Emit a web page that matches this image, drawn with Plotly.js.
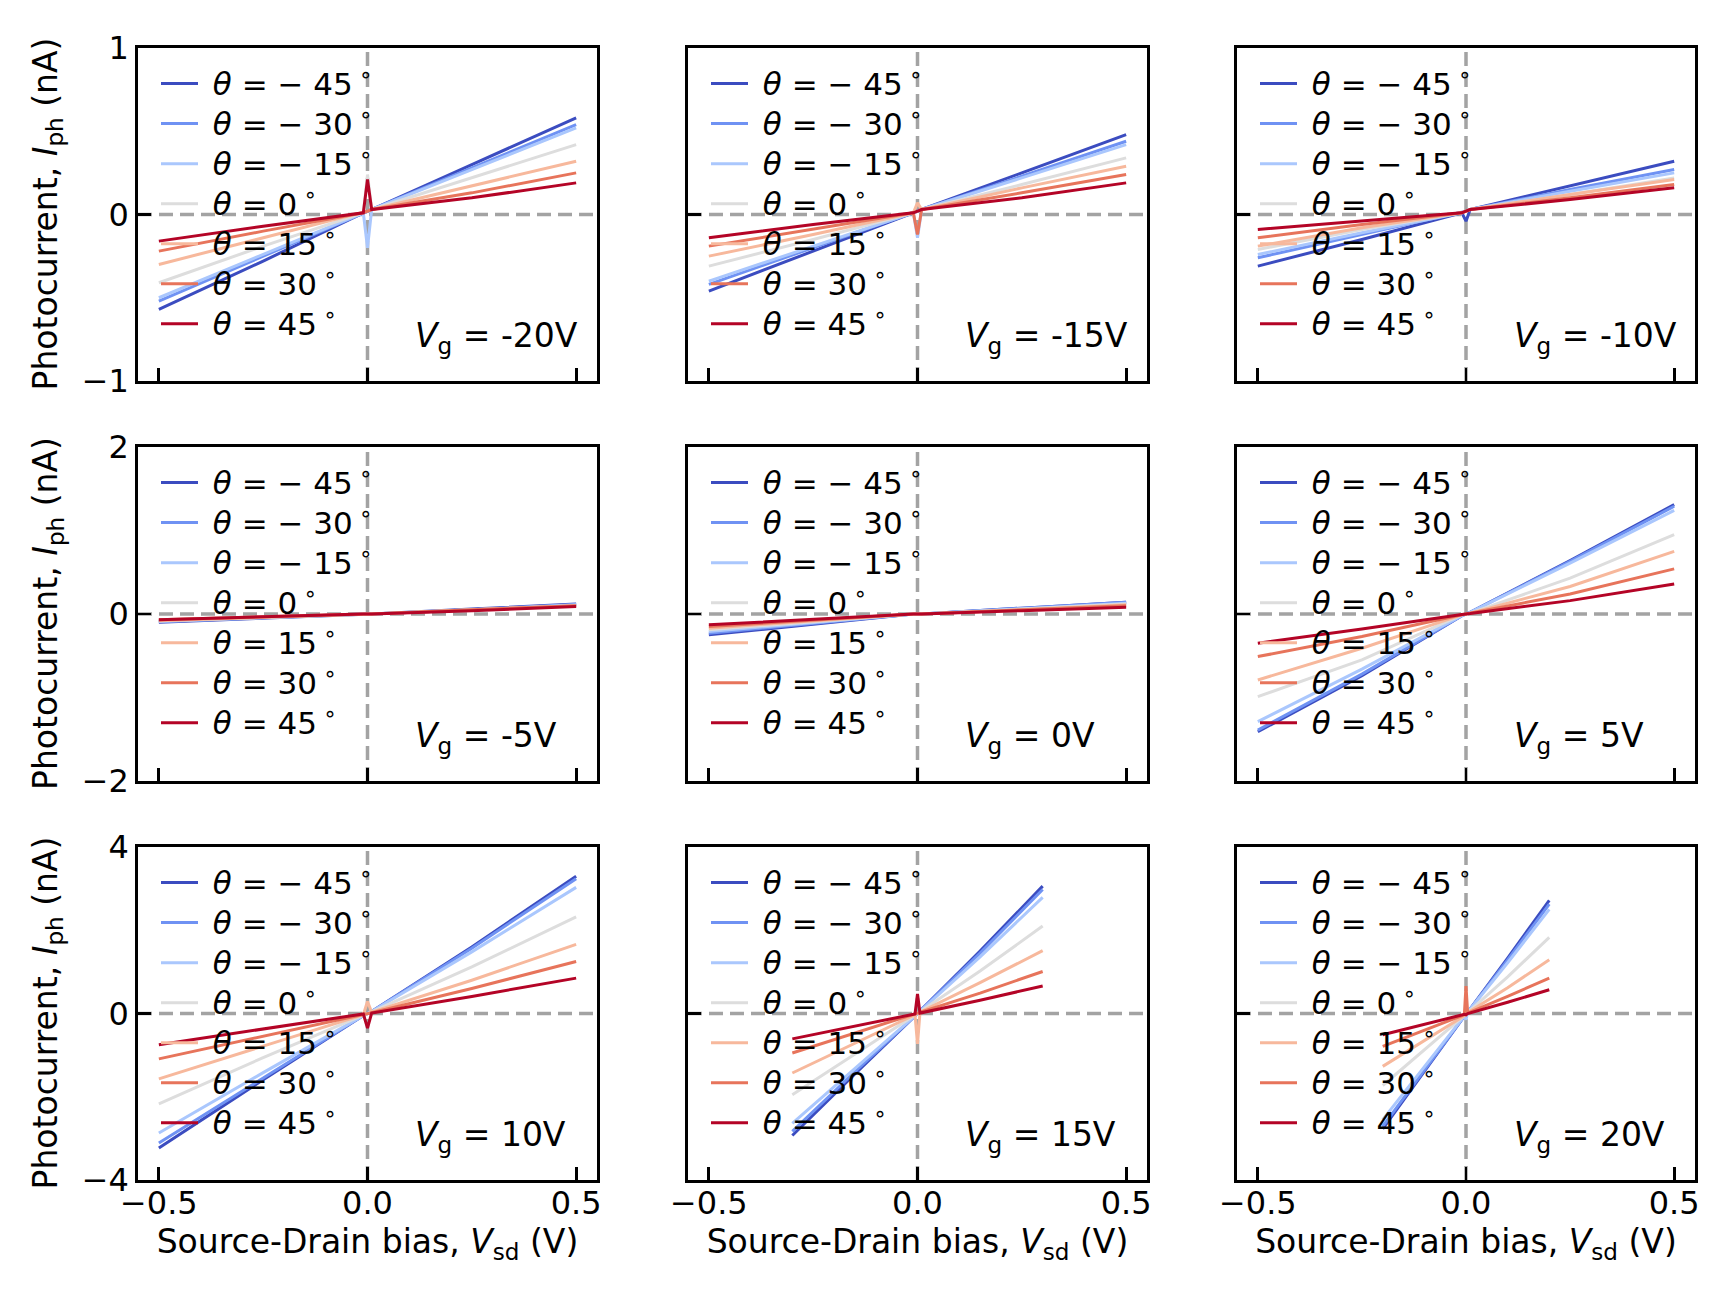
<!DOCTYPE html>
<html>
<head>
<meta charset="utf-8">
<script src="https://cdn.plot.ly/plotly-3.0.1.min.js"></script>
<style>html,body{margin:0;padding:0;background:#fff;}#chart{width:1734px;height:1300px;}</style>
</head>
<body>
<div id="chart"></div>
<script>
// ---------- data ----------
const thetas = [-45, -30, -15, 0, 15, 30, 45];
const thetaColors = ['#3b4cc0', '#6f92f3', '#aac7fd', '#dddddd', '#f7b89c', '#e7745b', '#b40426'];
const gateVoltages = [-20, -15, -10, -5, 0, 5, 10, 15, 20];
const gateLabels = ['-20V', '-15V', '-10V', '-5V', '0V', '5V', '10V', '15V', '20V'];

const vsdFull = [-0.5, -0.25, -0.01, 0, 0.01, 0.25, 0.5];
const vsd15 = [-0.3, -0.15, -0.006, 0, 0.006, 0.15, 0.3];
const vsd20 = [-0.2, -0.1, -0.004, 0, 0.004, 0.1, 0.2];

// rows: theta = -45, -30, -15, 0, 15, 30, 45 (nA)
const iphVgM20 = [
  [-0.57, -0.28, 0.01, 0.02, 0.03, 0.30, 0.58],
  [-0.52, -0.25, 0.01, 0.02, 0.03, 0.28, 0.54],
  [-0.50, -0.24, 0.01, -0.20, 0.03, 0.27, 0.52],
  [-0.41, -0.19, 0.01, 0.24, 0.03, 0.22, 0.42],
  [-0.30, -0.14, 0.01, 0.02, 0.03, 0.17, 0.32],
  [-0.22, -0.10, 0.01, 0.02, 0.03, 0.13, 0.25],
  [-0.16, -0.07, 0.01, 0.21, 0.03, 0.10, 0.19]
];
const iphVgM15 = [
  [-0.46, -0.22, 0.01, 0.02, 0.03, 0.25, 0.48],
  [-0.42, -0.20, 0.01, 0.02, 0.03, 0.23, 0.44],
  [-0.40, -0.19, 0.01, -0.14, 0.03, 0.22, 0.42],
  [-0.31, -0.15, 0.01, 0.02, 0.03, 0.18, 0.34],
  [-0.25, -0.12, 0.01, 0.07, 0.03, 0.16, 0.29],
  [-0.19, -0.09, 0.01, -0.12, 0.03, 0.13, 0.24],
  [-0.14, -0.06, 0.01, 0.02, 0.03, 0.10, 0.19]
];
const iphVgM10 = [
  [-0.31, -0.15, 0.01, -0.04, 0.03, 0.17, 0.32],
  [-0.26, -0.12, 0.01, 0.02, 0.03, 0.15, 0.27],
  [-0.24, -0.11, 0.01, 0.02, 0.03, 0.14, 0.25],
  [-0.21, -0.09, 0.01, 0.02, 0.03, 0.12, 0.22],
  [-0.19, -0.08, 0.01, 0.02, 0.03, 0.12, 0.21],
  [-0.14, -0.06, 0.01, 0.02, 0.03, 0.10, 0.18],
  [-0.09, -0.04, 0.01, 0.02, 0.03, 0.09, 0.16]
];
const iphVgM5 = [
  [-0.10, -0.05, 0.0, 0.0, 0.0, 0.06, 0.12],
  [-0.09, -0.04, 0.0, 0.0, 0.0, 0.05, 0.11],
  [-0.09, -0.04, 0.0, 0.0, 0.0, 0.05, 0.11],
  [-0.08, -0.04, 0.0, 0.0, 0.0, 0.05, 0.10],
  [-0.08, -0.04, 0.0, 0.0, 0.0, 0.05, 0.10],
  [-0.07, -0.03, 0.0, 0.0, 0.0, 0.05, 0.10],
  [-0.07, -0.03, 0.0, 0.0, 0.0, 0.04, 0.09]
];
const iphVg0 = [
  [-0.25, -0.12, 0.0, 0.0, 0.0, 0.07, 0.14],
  [-0.23, -0.11, 0.0, 0.0, 0.0, 0.07, 0.14],
  [-0.21, -0.10, 0.0, 0.0, 0.0, 0.06, 0.13],
  [-0.19, -0.09, 0.0, 0.0, 0.0, 0.06, 0.12],
  [-0.17, -0.08, 0.0, 0.0, 0.0, 0.05, 0.11],
  [-0.15, -0.07, 0.0, 0.0, 0.0, 0.05, 0.10],
  [-0.13, -0.06, 0.0, 0.0, 0.0, 0.04, 0.08]
];
const iphVg5 = [
  [-1.41, -0.74, -0.02, 0.0, 0.02, 0.64, 1.31],
  [-1.39, -0.72, -0.02, 0.0, 0.02, 0.63, 1.29],
  [-1.29, -0.66, -0.02, 0.0, 0.02, 0.61, 1.24],
  [-0.99, -0.55, -0.01, 0.0, 0.01, 0.43, 0.95],
  [-0.79, -0.41, -0.01, 0.0, 0.01, 0.33, 0.75],
  [-0.51, -0.27, -0.01, 0.0, 0.01, 0.24, 0.54],
  [-0.35, -0.18, -0.005, 0.0, 0.005, 0.16, 0.36]
];
const iphVg10 = [
  [-3.23, -1.59, -0.05, 0.0, 0.05, 1.60, 3.30],
  [-3.11, -1.54, -0.05, 0.0, 0.05, 1.57, 3.24],
  [-2.87, -1.42, -0.05, 0.0, 0.05, 1.48, 3.03],
  [-2.17, -1.06, -0.04, 0.0, 0.04, 1.12, 2.32],
  [-1.57, -0.78, -0.03, 0.29, 0.03, 0.80, 1.66],
  [-1.09, -0.54, -0.02, 0.0, 0.02, 0.60, 1.25],
  [-0.75, -0.37, -0.01, -0.35, 0.01, 0.41, 0.85]
];
const iphVg15 = [
  [-2.93, -1.45, -0.06, 0.0, 0.06, 1.50, 3.06],
  [-2.83, -1.40, -0.06, 0.0, 0.06, 1.45, 2.98],
  [-2.64, -1.31, -0.05, 0.0, 0.05, 1.36, 2.79],
  [-1.95, -0.97, -0.04, 0.0, 0.04, 1.02, 2.10],
  [-1.43, -0.71, -0.03, -0.73, 0.03, 0.74, 1.51],
  [-0.95, -0.47, -0.02, 0.0, 0.02, 0.49, 1.01],
  [-0.61, -0.30, -0.01, 0.47, 0.01, 0.32, 0.66]
];
const iphVg20 = [
  [-2.77, -1.38, -0.06, -0.03, 0.03, 1.33, 2.72],
  [-2.71, -1.35, -0.06, -0.03, 0.03, 1.29, 2.63],
  [-2.55, -1.28, -0.06, -0.15, 0.03, 1.22, 2.50],
  [-1.73, -0.87, -0.05, -0.03, 0.02, 0.88, 1.83],
  [-1.27, -0.64, -0.04, -0.03, 0.02, 0.62, 1.29],
  [-0.79, -0.40, -0.03, 0.66, 0.01, 0.41, 0.85],
  [-0.51, -0.26, -0.02, -0.03, 0.0, 0.27, 0.57]
];

const panelX = [vsdFull, vsdFull, vsdFull, vsdFull, vsdFull, vsdFull, vsdFull, vsd15, vsd20];
const panelY = [iphVgM20, iphVgM15, iphVgM10, iphVgM5, iphVg0, iphVg5, iphVg10, iphVg15, iphVg20];

const xTickVals = [-0.5, 0, 0.5];
const xTickText = ['\u22120.5', '0.0', '0.5'];
const yTickValsRows = [[-1, 0, 1], [-2, 0, 2], [-4, 0, 4]];
const yTickTextRows = [['\u22121', '0', '1'], ['\u22122', '0', '2'], ['\u22124', '0', '4']];
const yRangeRows = [[-1, 1], [-2, 2], [-4, 4]];

const xTitleText = 'Source-Drain bias, <i>V</i><sub>sd</sub> (V)';
const yTitleText = 'Photocurrent, <i>I</i><sub>ph</sub> (nA)';

// ---------- layout ----------
const W = 1734, H = 1300;
const FONT = 'DejaVu Sans';
const colDomains = [[138 / W, 597 / W], [688 / W, 1147 / W], [1237 / W, 1695 / W]];
const rowDomains = [[1 - 381 / H, 1 - 48 / H], [1 - 781 / H, 1 - 447 / H], [1 - 1180 / H, 1 - 847 / H]];

function thetaLabel(t) {
  const num = t < 0 ? '\u2212 ' + Math.abs(t) : String(t);
  return '<span style="font-size:31px">\u00a0<i>\u03b8</i> = ' + num + '\u2009<sup>\u2218</sup></span>';
}

const traces = [];
const layout = {
  width: W, height: H,
  margin: {l: 0, r: 0, t: 0, b: 0},
  paper_bgcolor: '#ffffff',
  plot_bgcolor: 'rgba(0,0,0,0)',
  font: {family: FONT, color: '#000000', size: 30},
  showlegend: true,
  shapes: [],
  annotations: []
};

for (let p = 0; p < 9; p++) {
  const r = Math.floor(p / 3), c = p % 3;
  const n = p + 1;
  const xid = n === 1 ? 'x' : 'x' + n;
  const yid = n === 1 ? 'y' : 'y' + n;
  const lid = n === 1 ? 'legend' : 'legend' + n;
  const xs = panelX[p];
  const ys = panelY[p];
  for (let k = 0; k < thetas.length; k++) {
    traces.push({
      type: 'scatter', mode: 'lines',
      x: xs, y: ys[k],
      xaxis: xid, yaxis: yid,
      legend: lid,
      name: thetaLabel(thetas[k]),
      line: {color: thetaColors[k], width: 3},
      hoverinfo: 'skip'
    });
  }
  layout[n === 1 ? 'xaxis' : 'xaxis' + n] = {
    domain: colDomains[c], anchor: yid,
    range: [-0.55, 0.55],
    tickmode: 'array', tickvals: xTickVals, ticktext: xTickText,
    showticklabels: r === 2,
    ticks: 'inside', ticklen: 13, tickwidth: 2.8, tickcolor: '#000',
    showline: true, linecolor: '#000', linewidth: 2.8, mirror: true,
    showgrid: false, zeroline: false,
    ticklabelstandoff: -7,
    tickfont: {family: FONT, size: 32, color: '#000'},
    title: r === 2 ? {text: xTitleText, font: {family: FONT, size: 33, color: '#000'}, standoff: 2} : {text: ''}
  };
  layout[n === 1 ? 'yaxis' : 'yaxis' + n] = {
    domain: rowDomains[r], anchor: xid,
    range: yRangeRows[r],
    tickmode: 'array', tickvals: yTickValsRows[r], ticktext: yTickTextRows[r],
    showticklabels: c === 0,
    ticks: 'inside', ticklen: 13, tickwidth: 2.8, tickcolor: '#000',
    showline: true, linecolor: '#000', linewidth: 2.8, mirror: true,
    showgrid: false, zeroline: false,
    tickfont: {family: FONT, size: 32, color: '#000'},
    title: {text: ''}
  };
  if (c === 0) {
    layout.annotations.push({
      xref: 'paper', yref: yid + ' domain',
      x: 47 / W, y: 0.5, xanchor: 'center', yanchor: 'middle',
      textangle: -90, showarrow: false,
      text: yTitleText,
      font: {family: FONT, size: 33, color: '#000'}
    });
  }
  layout[lid] = {
    x: colDomains[c][0] + 18 / W, y: rowDomains[r][1] - 10.5 / H,
    xanchor: 'left', yanchor: 'top',
    bgcolor: 'rgba(0,0,0,0)', borderwidth: 0,
    font: {family: FONT, size: 28.5, color: '#000'},
    itemwidth: 37,
    traceorder: 'normal'
  };
  // dashed zero lines
  layout.shapes.push({type: 'line', xref: xid, yref: yid + ' domain', x0: 0, x1: 0, y0: 0, y1: 1,
    line: {color: '#a3a3a3', width: 3.5, dash: '14px,7px'}, layer: 'below'});
  layout.shapes.push({type: 'line', xref: xid + ' domain', yref: yid, x0: 0, x1: 1, y0: 0, y1: 0,
    line: {color: '#a3a3a3', width: 3.5, dash: '14px,7px'}, layer: 'below'});
  // gate voltage label
  layout.annotations.push({
    xref: xid + ' domain', yref: yid + ' domain',
    x: 0.6, y: 0.13, xanchor: 'left', yanchor: 'middle',
    text: '<i>V</i><sub>g</sub> = ' + gateLabels[p],
    showarrow: false,
    font: {family: FONT, size: 33, color: '#000'}
  });
}

Plotly.newPlot('chart', traces, layout, {staticPlot: true, displayModeBar: false});
</script>
</body>
</html>
